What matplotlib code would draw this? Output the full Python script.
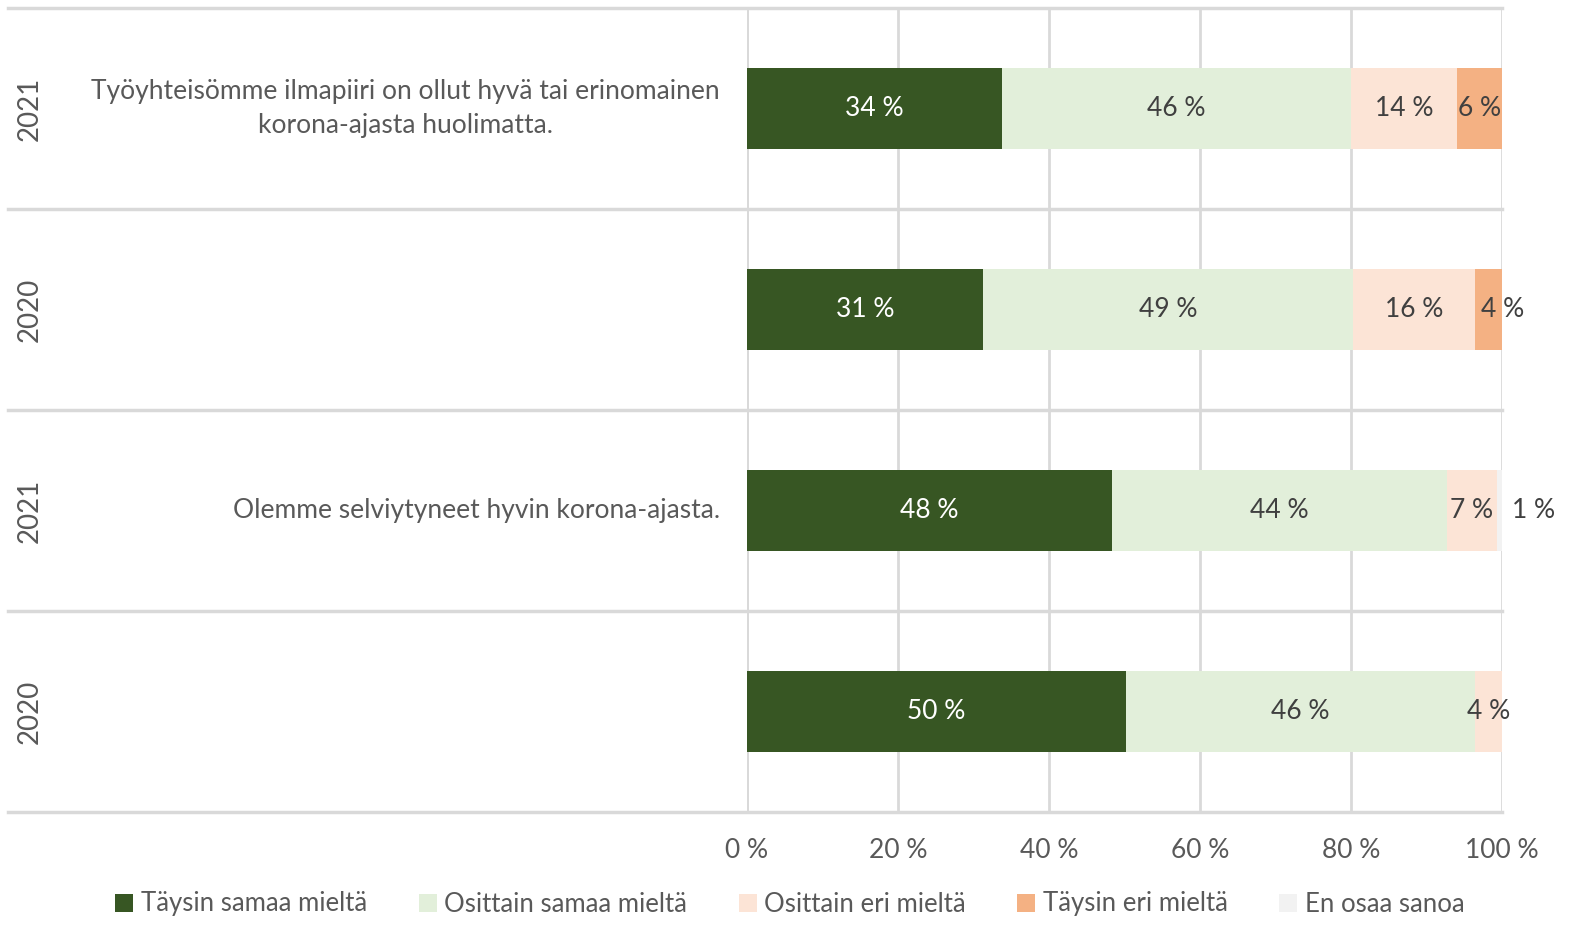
import numpy as np
import matplotlib.pyplot as plt
from matplotlib.transforms import blended_transform_factory
from matplotlib.patches import Patch

plt.rcParams['font.family'] = ['Lato', 'DejaVu Sans']

years = ["2021", "2020", "2021", "2020"]
statements = ["Työyhteisömme ilmapiiri on ollut hyvä tai erinomainen\nkorona-ajasta huolimatta.",
              "Olemme selviytyneet hyvin korona-ajasta."]
series_names = ["Täysin samaa mieltä", "Osittain samaa mieltä", "Osittain eri mieltä",
                "Täysin eri mieltä", "En osaa sanoa"]
tays_samaa = [33.8, 31.3, 48.3, 50.2]
osit_samaa = [46.2, 49.0, 44.4, 46.2]
osit_eri = [14.0, 16.1, 6.6, 3.6]
tays_eri = [6.0, 3.6, 0.0, 0.0]
en_osaa = [0.0, 0.0, 0.7, 0.0]

colors = ["#375623", "#E2EFDA", "#FCE4D6", "#F4B183", "#F2F2F2"]
label_colors = ["white", "#404040", "#404040", "#404040", "#404040"]
grid_c = "#D9D9D9"
fs = 19
# label nudges (series, row) -> shift in % units, like Excel moved them
nudge = {(3, 1): 1.9, (4, 2): 4.5}

W, H = 1591, 932
fig = plt.figure(figsize=(W / 100, H / 100), dpi=100)
ax = fig.add_axes([747 / W, 1 - 812 / H, (1502 - 747) / W, (812 - 8) / H])

data = [tays_samaa, osit_samaa, osit_eri, tays_eri, en_osaa]
y = np.arange(len(years))
left = np.zeros(len(years))
for i, vals in enumerate(data):
    vals = np.array(vals)
    ax.barh(y, vals, left=left, height=0.4, color=colors[i], zorder=2)
    for j, v in enumerate(vals):
        if v <= 0:
            continue
        cx = left[j] + v / 2
        if (i, j) in nudge:
            cx = left[j] + v / 2 + nudge[(i, j)]
        ax.text(cx, y[j], f"{round(v)} %", ha='center', va='center',
                fontsize=fs, color=label_colors[i], zorder=3)
    left += vals

ax.set_xlim(0, 100)
ax.set_ylim(3.5, -0.5)
ax.set_xticks(np.arange(0, 101, 20))
ax.set_xticklabels([f"{t} %" for t in range(0, 101, 20)])
ax.tick_params(axis='x', length=0, pad=19, labelsize=fs, labelcolor="#595959")
ax.set_yticks([])
ax.grid(axis='x', color=grid_c, linewidth=2, zorder=0)
for s in ax.spines.values():
    s.set_visible(False)
ax.axvline(0, color=grid_c, linewidth=2, zorder=1)

# row separators across category area
tr = blended_transform_factory(fig.transFigure, ax.transData)
for yy in np.arange(-0.5, 4, 1):
    ax.plot([8 / W, 1502 / W], [yy, yy], color=grid_c, linewidth=2.5,
            transform=tr, clip_on=False, zorder=1)

# year labels
for j, yr in enumerate(years):
    fig.text(30 / W, 0, yr, transform=tr, rotation=90, ha='center', va='center',
             fontsize=fs + 1, color="#595959").set_y(y[j])

# statement labels
for k, st in enumerate(statements):
    fig.text(720 / W, 0, st, transform=tr, ha='right', va='center', multialignment='center',
             fontsize=fs, color="#595959", linespacing=1.4).set_y(2 * k)

handles = [Patch(facecolor=c, edgecolor='none') for c in colors]
fig.legend(handles, series_names, loc='center', bbox_to_anchor=(790 / W, 1 - 904 / H),
           ncol=5, frameon=False, fontsize=18.5, labelcolor="#595959",
           handlelength=0.7, handleheight=0.7, handletextpad=0.3, columnspacing=2.0)

fig.savefig("out.png", facecolor="w")
